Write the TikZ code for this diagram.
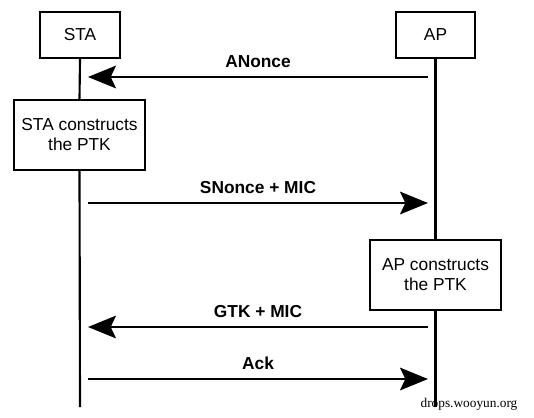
\documentclass[tikz,border=0pt]{standalone}
\usepackage{fontspec}
\setmainfont{Liberation Sans}
\newfontfamily\wmfont{Liberation Serif}
\usetikzlibrary{arrows.meta}
\begin{document}
\begin{tikzpicture}[x=0.75pt,y=-0.75pt,
  lifebox/.style={draw=black,line width=1.6pt,fill=white,inner sep=0pt,font=\fontsize{13}{15}\selectfont,align=center},
  lifeline/.style={line width=1.6pt},
  msg/.style={line width=1.6pt,-{Stealth[length=21pt,width=17pt,inset=4pt]}},
  msglabel/.style={font=\bfseries\fontsize{13}{15}\selectfont}]
\useasboundingbox[fill=white] (0,0) rectangle (534,417);
% boxes
\node[lifebox,minimum width=80*0.75pt,minimum height=46*0.75pt] (sta) at (80,35) {STA};
\node[lifebox,minimum width=79*0.75pt,minimum height=46*0.75pt] (ap) at (435.5,35) {AP};
\node[lifebox,minimum width=131*0.75pt,minimum height=70*0.75pt] (stac) at (79.5,135) {STA constructs\\the PTK};
\node[lifebox,minimum width=131*0.75pt,minimum height=70*0.75pt] (apc) at (435.5,275) {AP constructs\\the PTK};
% lifeline ends
\coordinate (staend) at (80,407);
\coordinate (apend) at (435.5,407);
\draw[lifeline] (sta.south) -- (stac.north);
\draw[lifeline] (stac.south) -- (staend);
\draw[lifeline] (ap.south) -- (apc.north);
\draw[lifeline] (apc.south) -- (apend);
% message endpoints
\coordinate (a1) at (428,77);  \coordinate (s1) at (88,77);
\coordinate (s2) at (88,203);  \coordinate (a2) at (428,203);
\coordinate (a3) at (428,327); \coordinate (s3) at (88,327);
\coordinate (s4) at (88,379);  \coordinate (a4) at (428,379);
\draw[msg] (a1) -- node[msglabel,above=3pt] (l1) {ANonce} (s1);
\draw[msg] (s2) -- node[msglabel,above=3pt] (l2) {SNonce + MIC} (a2);
\draw[msg] (a3) -- node[msglabel,above=3pt] (l3) {GTK + MIC} (s3);
\draw[msg] (s4) -- node[msglabel,above=3pt] (l4) {Ack} (a4);
% watermark
\node[font=\wmfont\fontsize{10}{12}\selectfont,inner sep=0pt] (wm) at (469,404) {drops.wooyun.org};
\end{tikzpicture}
\end{document}
